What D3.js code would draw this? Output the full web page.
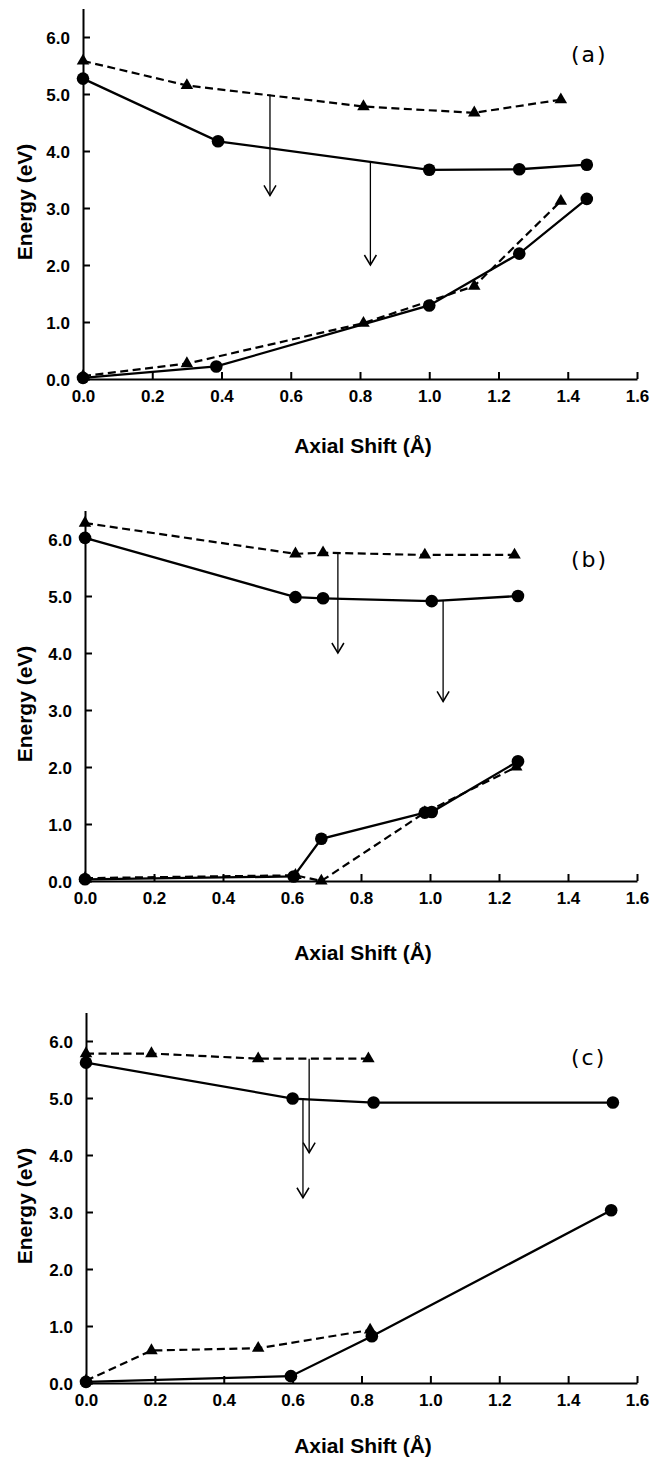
<!DOCTYPE html>
<html>
<head>
<meta charset="utf-8">
<script src="https://cdn.jsdelivr.net/npm/d3@7"></script>
<style>
  body { margin: 0; background: #fff; }
</style>
</head>
<body>
<svg id="chart"></svg>
<script>
// tick values
var xTicks = [0, 0.2, 0.4, 0.6, 0.8, 1.0, 1.2, 1.4, 1.6];
var yTicks = [0, 1, 2, 3, 4, 5, 6];
var panelLabels = ["(a)", "(b)", "(c)"];

// panel (a)
var aTopCircles = [[0, 5.27], [0.39, 4.17], [1.0, 3.67], [1.26, 3.68], [1.455, 3.76]];
var aTopTriangles = [[0, 5.58], [0.30, 5.15], [0.81, 4.78], [1.13, 4.67], [1.38, 4.9]];
var aLowCircles = [[0, 0.02], [0.385, 0.22], [1.0, 1.29], [1.26, 2.2], [1.455, 3.16]];
var aLowTriangles = [[0, 0.05], [0.30, 0.27], [0.81, 0.98], [1.13, 1.63], [1.38, 3.12]];
var aArrows = [[0.54, 4.99, 3.22], [0.83, 3.82, 2.0]];

// panel (b)
var bTopCircles = [[0, 6.02], [0.61, 4.98], [0.69, 4.96], [1.005, 4.91], [1.255, 5.0]];
var bTopTriangles = [[0, 6.28], [0.61, 5.74], [0.69, 5.76], [0.985, 5.72], [1.245, 5.72]];
var bLowCircles = [[0, 0.03], [0.605, 0.08], [0.685, 0.74], [0.985, 1.2], [1.005, 1.21], [1.255, 2.1]];
var bLowTriangles = [[0, 0.05], [0.61, 0.1], [0.685, 0.0], [0.985, 1.2], [1.25, 2.0]];
var bArrows = [[0.733, 5.75, 4.0], [1.038, 4.93, 3.15]];

// panel (c)
var cTopCircles = [[0, 5.62], [0.60, 4.99], [0.835, 4.92], [1.53, 4.92]];
var cTopTriangles = [[0, 5.78], [0.19, 5.78], [0.50, 5.69], [0.82, 5.69]];
var cLowCircles = [[0, 0.02], [0.595, 0.12], [0.83, 0.82], [1.525, 3.03]];
var cLowTriangles = [[0, 0.04], [0.19, 0.57], [0.50, 0.61], [0.825, 0.93]];
var cArrows = [[0.63, 4.98, 3.25], [0.648, 5.69, 4.04]];

var width = 653;
var height = 1460;

var svg = d3.select("#chart")
    .attr("width", width)
    .attr("height", height);

var panels = [
    {label: panelLabels[0], x0: 83, y0: 379, titleY: 453, labelY: 62,
     topCircles: aTopCircles, topTriangles: aTopTriangles,
     lowCircles: aLowCircles, lowTriangles: aLowTriangles, arrows: aArrows},
    {label: panelLabels[1], x0: 85, y0: 881, titleY: 960, labelY: 567,
     topCircles: bTopCircles, topTriangles: bTopTriangles,
     lowCircles: bLowCircles, lowTriangles: bLowTriangles, arrows: bArrows},
    {label: panelLabels[2], x0: 86, y0: 1383, titleY: 1453, labelY: 1065,
     topCircles: cTopCircles, topTriangles: cTopTriangles,
     lowCircles: cLowCircles, lowTriangles: cLowTriangles, arrows: cArrows}
];

var fontBold = "'Liberation Sans', Arial, Helvetica, sans-serif";

panels.forEach(function(p) {
    var g = svg.append("g");

    var x = d3.scaleLinear()
        .domain([0, 1.6])
        .range([p.x0, 637]);
    var y = d3.scaleLinear()
        .domain([0, 6.5])
        .range([p.y0, p.y0 - 370.5]);

    var xAxis = d3.axisBottom(x)
        .tickValues(xTicks)
        .tickSizeInner(-7)
        .tickSizeOuter(0)
        .tickPadding(11)
        .tickFormat(d3.format(".1f"));
    var yAxis = d3.axisLeft(y)
        .tickValues(yTicks)
        .tickSizeInner(-7)
        .tickSizeOuter(0)
        .tickPadding(13)
        .tickFormat(d3.format(".1f"));

    var gx = g.append("g")
        .attr("transform", "translate(0," + p.y0 + ")")
        .call(xAxis);
    var gy = g.append("g")
        .attr("transform", "translate(" + p.x0 + ",0)")
        .call(yAxis);

    [gx, gy].forEach(function(ax) {
        ax.select(".domain").attr("stroke", "#000").attr("stroke-width", 2);
        ax.selectAll(".tick line").attr("stroke", "#000").attr("stroke-width", 2);
        ax.selectAll(".tick text")
            .attr("fill", "#000")
            .style("font-family", fontBold)
            .style("font-weight", "bold")
            .style("font-size", "17px");
    });
    gy.selectAll(".tick text").attr("dy", "0.36em");

    // axis titles
    g.append("text")
        .attr("x", 363)
        .attr("y", p.titleY)
        .attr("text-anchor", "middle")
        .style("font-family", fontBold)
        .style("font-weight", "bold")
        .style("font-size", "21px")
        .text("Axial Shift (Å)");

    g.append("text")
        .attr("transform", "translate(32," + (p.y0 - 177) + ") rotate(-90)")
        .attr("text-anchor", "middle")
        .style("font-family", fontBold)
        .style("font-weight", "bold")
        .style("font-size", "21px")
        .text("Energy (eV)");

    g.append("text")
        .attr("x", 571)
        .attr("y", p.labelY)
        .style("font-family", "'DejaVu Sans', sans-serif")
        .style("font-size", "22px")
        .style("letter-spacing", "2px")
        .text(p.label);

    var line = d3.line()
        .x(function(d) { return x(d[0]); })
        .y(function(d) { return y(d[1]); });

    // dashed series (triangles)
    [p.topTriangles, p.lowTriangles].forEach(function(series) {
        g.append("path")
            .attr("d", line(series))
            .attr("fill", "none")
            .attr("stroke", "#000")
            .attr("stroke-width", 2.2)
            .attr("stroke-dasharray", "8,4.5");
    });

    // solid series (circles)
    [p.topCircles, p.lowCircles].forEach(function(series) {
        g.append("path")
            .attr("d", line(series))
            .attr("fill", "none")
            .attr("stroke", "#000")
            .attr("stroke-width", 2.3);
    });

    var tri = d3.symbol().type(d3.symbolTriangle).size(68);
    g.selectAll("path.tri")
        .data(p.topTriangles.concat(p.lowTriangles))
        .enter().append("path")
        .attr("class", "tri")
        .attr("d", tri)
        .attr("transform", function(d) {
            return "translate(" + x(d[0]) + "," + y(d[1]) + ")";
        })
        .attr("fill", "#000");

    g.selectAll("circle.pt")
        .data(p.topCircles.concat(p.lowCircles))
        .enter().append("circle")
        .attr("class", "pt")
        .attr("cx", function(d) { return x(d[0]); })
        .attr("cy", function(d) { return y(d[1]); })
        .attr("r", 6.3)
        .attr("fill", "#000");

    // transition arrows
    p.arrows.forEach(function(a) {
        var ax = x(a[0]);
        var yTop = y(a[1]);
        var yTip = y(a[2]);
        g.append("line")
            .attr("x1", ax).attr("x2", ax)
            .attr("y1", yTop).attr("y2", yTip)
            .attr("stroke", "#000")
            .attr("stroke-width", 1.3);
        g.append("path")
            .attr("d", "M" + (ax - 6) + "," + (yTip - 10) + "L" + ax + "," + yTip + "L" + (ax + 6) + "," + (yTip - 10))
            .attr("fill", "none")
            .attr("stroke", "#000")
            .attr("stroke-width", 1.5);
    });
});
</script>
</body>
</html>
